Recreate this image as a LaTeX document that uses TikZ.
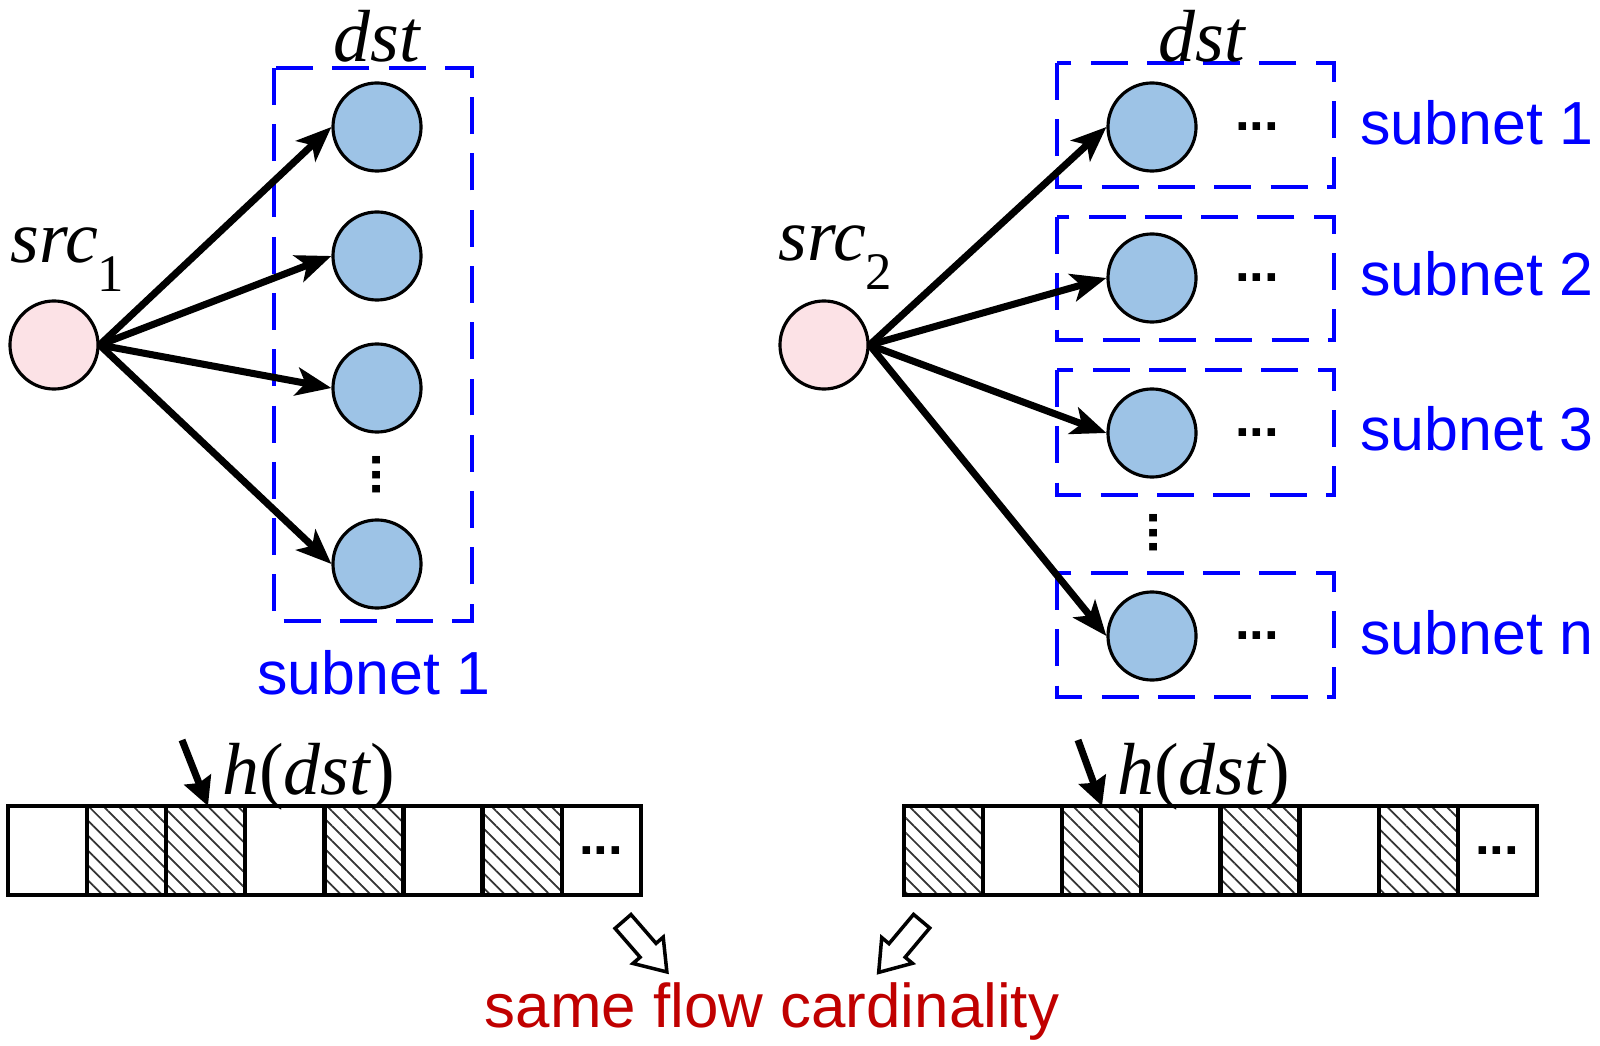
\documentclass[tikz,border=0pt]{standalone}
\usepackage{fontspec}
\setmainfont{Liberation Serif}
\newfontfamily\arialfont{Liberation Sans}
\usetikzlibrary{arrows.meta, patterns.meta, shapes.arrows}

\definecolor{srcpink}{RGB}{252,226,230}
\definecolor{dstblue}{RGB}{157,195,230}
\definecolor{netblue}{RGB}{0,0,255}
\definecolor{cardred}{RGB}{192,0,0}

\begin{document}
\begin{tikzpicture}[x=0.01cm, y=-0.01cm,
  src/.style={circle, draw, line width=0.9pt, fill=srcpink, minimum size=0.88cm, inner sep=0pt},
  dst/.style={circle, draw, line width=0.9pt, fill=dstblue, minimum size=0.88cm, inner sep=0pt},
  subnetbox/.style={draw=netblue, line width=1.3pt, dash pattern=on 10.5pt off 5.5pt},
  flow/.style={line width=2pt, -{Stealth[length=10pt, width=8pt, inset=2.5pt]}},
  hash/.style={line width=2pt, -{Stealth[length=8pt, width=8pt, inset=1pt]}},
  cell/.style={minimum width=0.791cm, minimum height=0.89cm, inner sep=0pt, outer sep=0pt, anchor=north west},
  cellframe/.style={draw, line width=1.2pt},
  hatched/.style={pattern={Lines[angle=-45, distance=3pt, line width=0.5pt]}, pattern color=black!80},
  blank/.style={},
  ital/.style={font=\fontsize{21}{21}\selectfont\itshape},
  netlabel/.style={font=\arialfont\fontsize{17.3}{17.3}\selectfont, text=netblue, anchor=base west},
  ellip/.style={font=\arialfont\bfseries\fontsize{15}{15}\selectfont, inner sep=0pt},
  fatarrow/.style={single arrow, draw, line width=1pt, fill=white, inner xsep=0pt, inner ysep=2.5pt,
    single arrow head extend=2.7pt, single arrow tip angle=70, minimum height=19pt}]
\useasboundingbox (0,0) rectangle (1600,1046);

% left: one subnet
\node[src] (s1) at (54,345) {};
\node[ital, anchor=base west] (s1lab) at (-2,263) {src\raisebox{-0.38em}{\fontsize{15}{15}\selectfont\upshape 1}};
\draw[subnetbox] (274,68) rectangle (472,621);
\foreach \n/\y in {a/127, b/256, c/388, d/564}
  \node[dst] (l\n) at (377,\y) {};
\node[ital] (ldst) at (377,36) {dst};
\node[ellip, rotate=90] (lvdots) at (377,475) {...};
\node[netlabel] (lnet) at (245,694) {subnet 1};
\foreach \n in {a,b,c,d}
  \draw[flow] (s1.east) -- (l\n.west);

% right: several subnets
\node[src] (s2) at (824,345) {};
\node[ital, anchor=base west] (s2lab) at (766,261) {src\raisebox{-0.38em}{\fontsize{15}{15}\selectfont\upshape 2}};
\foreach \n/\y/\t/\b/\k in {a/127/63/187/1, b/278/217/340/2, c/433/370/495/3, d/636/573/697/n} {
  \draw[subnetbox] (1057,\t) rectangle (1334,\b);
  \node[dst] (r\n) at (1152,\y) {};
  \node[ellip] (r\n dots) at (1257,\y) {...};
  \node[netlabel] (r\n net) at (1348,{\y+18}) {subnet \k};
  \draw[flow] (s2.east) -- (r\n.west);
}
\node[ital] (rdst) at (1202,36) {dst};
\node[ellip, rotate=90] (rvdots) at (1154,533) {...};

% bit arrays
\foreach \i/\s in {1/blank,2/hatched,3/hatched,4/blank,5/hatched,6/blank,7/hatched,8/blank}
  \node[cell, \s] (L\i) at ({8+79.1*(\i-1)},806) {};
\foreach \i/\s in {1/hatched,2/blank,3/hatched,4/blank,5/hatched,6/blank,7/hatched,8/blank}
  \node[cell, \s] (R\i) at ({904+79.1*(\i-1)},806) {};
\foreach \i in {1,...,8} {
  \draw[cellframe] (L\i.north west) rectangle (L\i.south east);
  \draw[cellframe] (R\i.north west) rectangle (R\i.south east);
}
\node[ellip] (Ldots) at (L8) {...};
\node[ellip] (Rdots) at (R8) {...};

\coordinate (hLfrom) at (182,740);
\coordinate (hLto) at (208,806);
\draw[hash] (hLfrom) -- (hLto);
\node[ital, anchor=base west] (hLlab) at (210,794) {h{\upshape(}dst{\upshape)}};
\coordinate (hRfrom) at (1078,740);
\coordinate (hRto) at (1102,806);
\draw[hash] (hRfrom) -- (hRto);
\node[ital, anchor=base west] (hRlab) at (1105,794) {h{\upshape(}dst{\upshape)}};

% result
\node[fatarrow, rotate=-49] (fL) at (640,941) {};
\node[fatarrow, rotate=-130] (fR) at (905,941) {};
\node[font=\arialfont\fontsize{17.6}{17.6}\selectfont, text=cardred, anchor=base] (card) at (772,1027) {same flow cardinality};
\end{tikzpicture}
\end{document}
